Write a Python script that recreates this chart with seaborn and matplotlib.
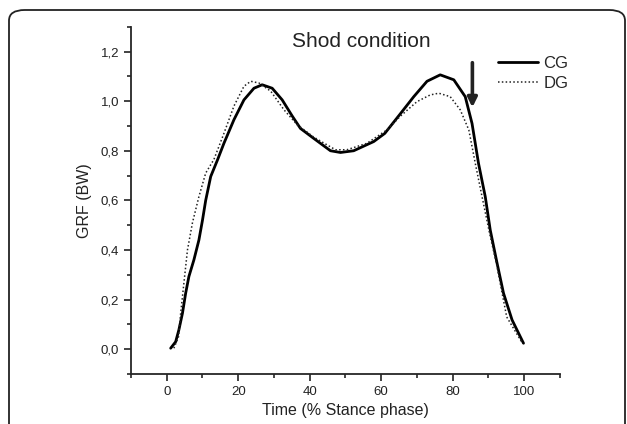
import matplotlib
matplotlib.use("Agg")
import matplotlib.pyplot as plt
from matplotlib.patches import FancyBboxPatch
from matplotlib.ticker import MultipleLocator, FuncFormatter
import pandas as pd
import seaborn as sns

# values
cg_time = [1.1, 2.5, 3.4, 4.4, 5.3, 6.2, 7.6, 9.0, 10.0, 10.9, 12.3, 14.2, 16.0, 18.8,
           21.6, 24.4, 26.7, 29.5, 32.3, 35.1, 37.4, 41.1, 45.8, 48.6, 52.3, 57.9,
           61.0, 65.4, 69.1, 72.8, 76.5, 80.3, 83.5, 85.4, 87.2, 89.1, 90.5, 92.4,
           94.2, 96.6, 99.8]
cg_grf = [0.004, 0.03, 0.078, 0.145, 0.226, 0.293, 0.36, 0.44, 0.52, 0.60, 0.696, 0.763,
          0.83, 0.925, 1.005, 1.052, 1.066, 1.052, 1.005, 0.94, 0.89, 0.85, 0.80, 0.793,
          0.80, 0.837, 0.87, 0.95, 1.018, 1.08, 1.106, 1.086, 1.018, 0.91, 0.75, 0.615,
          0.48, 0.347, 0.226, 0.118, 0.024]

dg_time = [2.0, 3.3, 3.9, 4.8, 5.8, 7.2, 9.0, 10.9, 13.2, 16.0, 18.8, 21.6, 23.5, 25.8,
           29.1, 32.8, 36.5, 41.1, 47.2, 50.4, 56.0, 61.6, 65.4, 70.0, 73.7, 76.1,
           79.3, 82.1, 84.5, 86.3, 88.2, 90.2, 92.3, 95.1, 99.5]
dg_grf = [0.004, 0.05, 0.145, 0.266, 0.40, 0.51, 0.615, 0.71, 0.765, 0.87, 0.98, 1.06,
          1.08, 1.073, 1.04, 0.965, 0.905, 0.855, 0.804, 0.804, 0.83, 0.884, 0.94, 0.998,
          1.025, 1.032, 1.018, 0.965, 0.884, 0.75, 0.615, 0.475, 0.34, 0.13, 0.024]

groups = ["CG", "DG"]

df = pd.concat([
    pd.DataFrame({"time": cg_time, "grf": cg_grf, "group": "CG"}),
    pd.DataFrame({"time": dg_time, "grf": dg_grf, "group": "DG"}),
])

sns.set_style("ticks")
plt.rcParams["font.family"] = ["Liberation Sans", "DejaVu Sans"]

fig = plt.figure(figsize=(6.27, 4.24), dpi=100)
ax = fig.add_axes([0.2089, 0.1179, 0.6842, 0.8191])

sns.lineplot(data=df, x="time", y="grf", hue="group", style="group",
             palette={"CG": "black", "DG": "#222222"},
             dashes={"CG": "", "DG": (1, 1.5)}, sort=False, estimator=None,
             ax=ax, legend=False)
for line, lw in zip(ax.lines, [2.0, 1.1]):
    line.set_linewidth(lw)
    line.set_solid_joinstyle("round")
    line.set_dash_joinstyle("round")

ax.set_xlim(-10, 110)
ax.set_ylim(-0.1, 1.3)
ax.xaxis.set_minor_locator(MultipleLocator(10))
ax.yaxis.set_minor_locator(MultipleLocator(0.1))
ax.set_xticks([0, 20, 40, 60, 80, 100])
ax.set_yticks([0, 0.2, 0.4, 0.6, 0.8, 1.0, 1.2])
ax.yaxis.set_major_formatter(FuncFormatter(lambda v, p: f"{v:.1f}".replace(".", ",")))
ax.tick_params(which="major", length=5, width=1.2, labelsize=9.5, colors="#222222")
ax.tick_params(which="minor", length=3, width=1.2)
for s in ["left", "bottom"]:
    ax.spines[s].set_linewidth(1.3)
sns.despine(ax=ax)

ax.set_xlabel("Time (% Stance phase)", fontsize=11.5, color="#222222", labelpad=4)
ax.set_ylabel("GRF (BW)", fontsize=11.5, color="#222222", labelpad=6)
ax.text(0.538, 0.956, "Shod condition", transform=ax.transAxes, ha="center", va="center",
        fontsize=15, color="#222222")

# legend
hs = [plt.Line2D([], [], color="black", lw=2.0),
      plt.Line2D([], [], color="#222222", lw=1.1, ls=(0, (1, 1.5)))]
ax.legend(hs, groups, loc="upper left", bbox_to_anchor=(0.856, 0.916), frameon=False,
          fontsize=12, handlelength=2.4, handletextpad=0.3, labelspacing=0.3,
          borderpad=0, borderaxespad=0)

# arrow marking the push-off peak
ax.annotate("", xy=(85.5, 0.975), xytext=(85.5, 1.155),
            arrowprops=dict(arrowstyle="-|>", color="#222222", lw=2.6,
                            mutation_scale=14, shrinkA=0, shrinkB=0))

# rounded frame around the figure
fig.patches.append(FancyBboxPatch((9 / 627, -0.05), 616 / 627, 1.0 - 10 / 424 + 0.05,
                                  boxstyle="round,pad=0,rounding_size=0.025",
                                  transform=fig.transFigure, fill=False,
                                  edgecolor="#222222", lw=1.3, figure=fig))

fig.savefig("out.png", dpi=100)
